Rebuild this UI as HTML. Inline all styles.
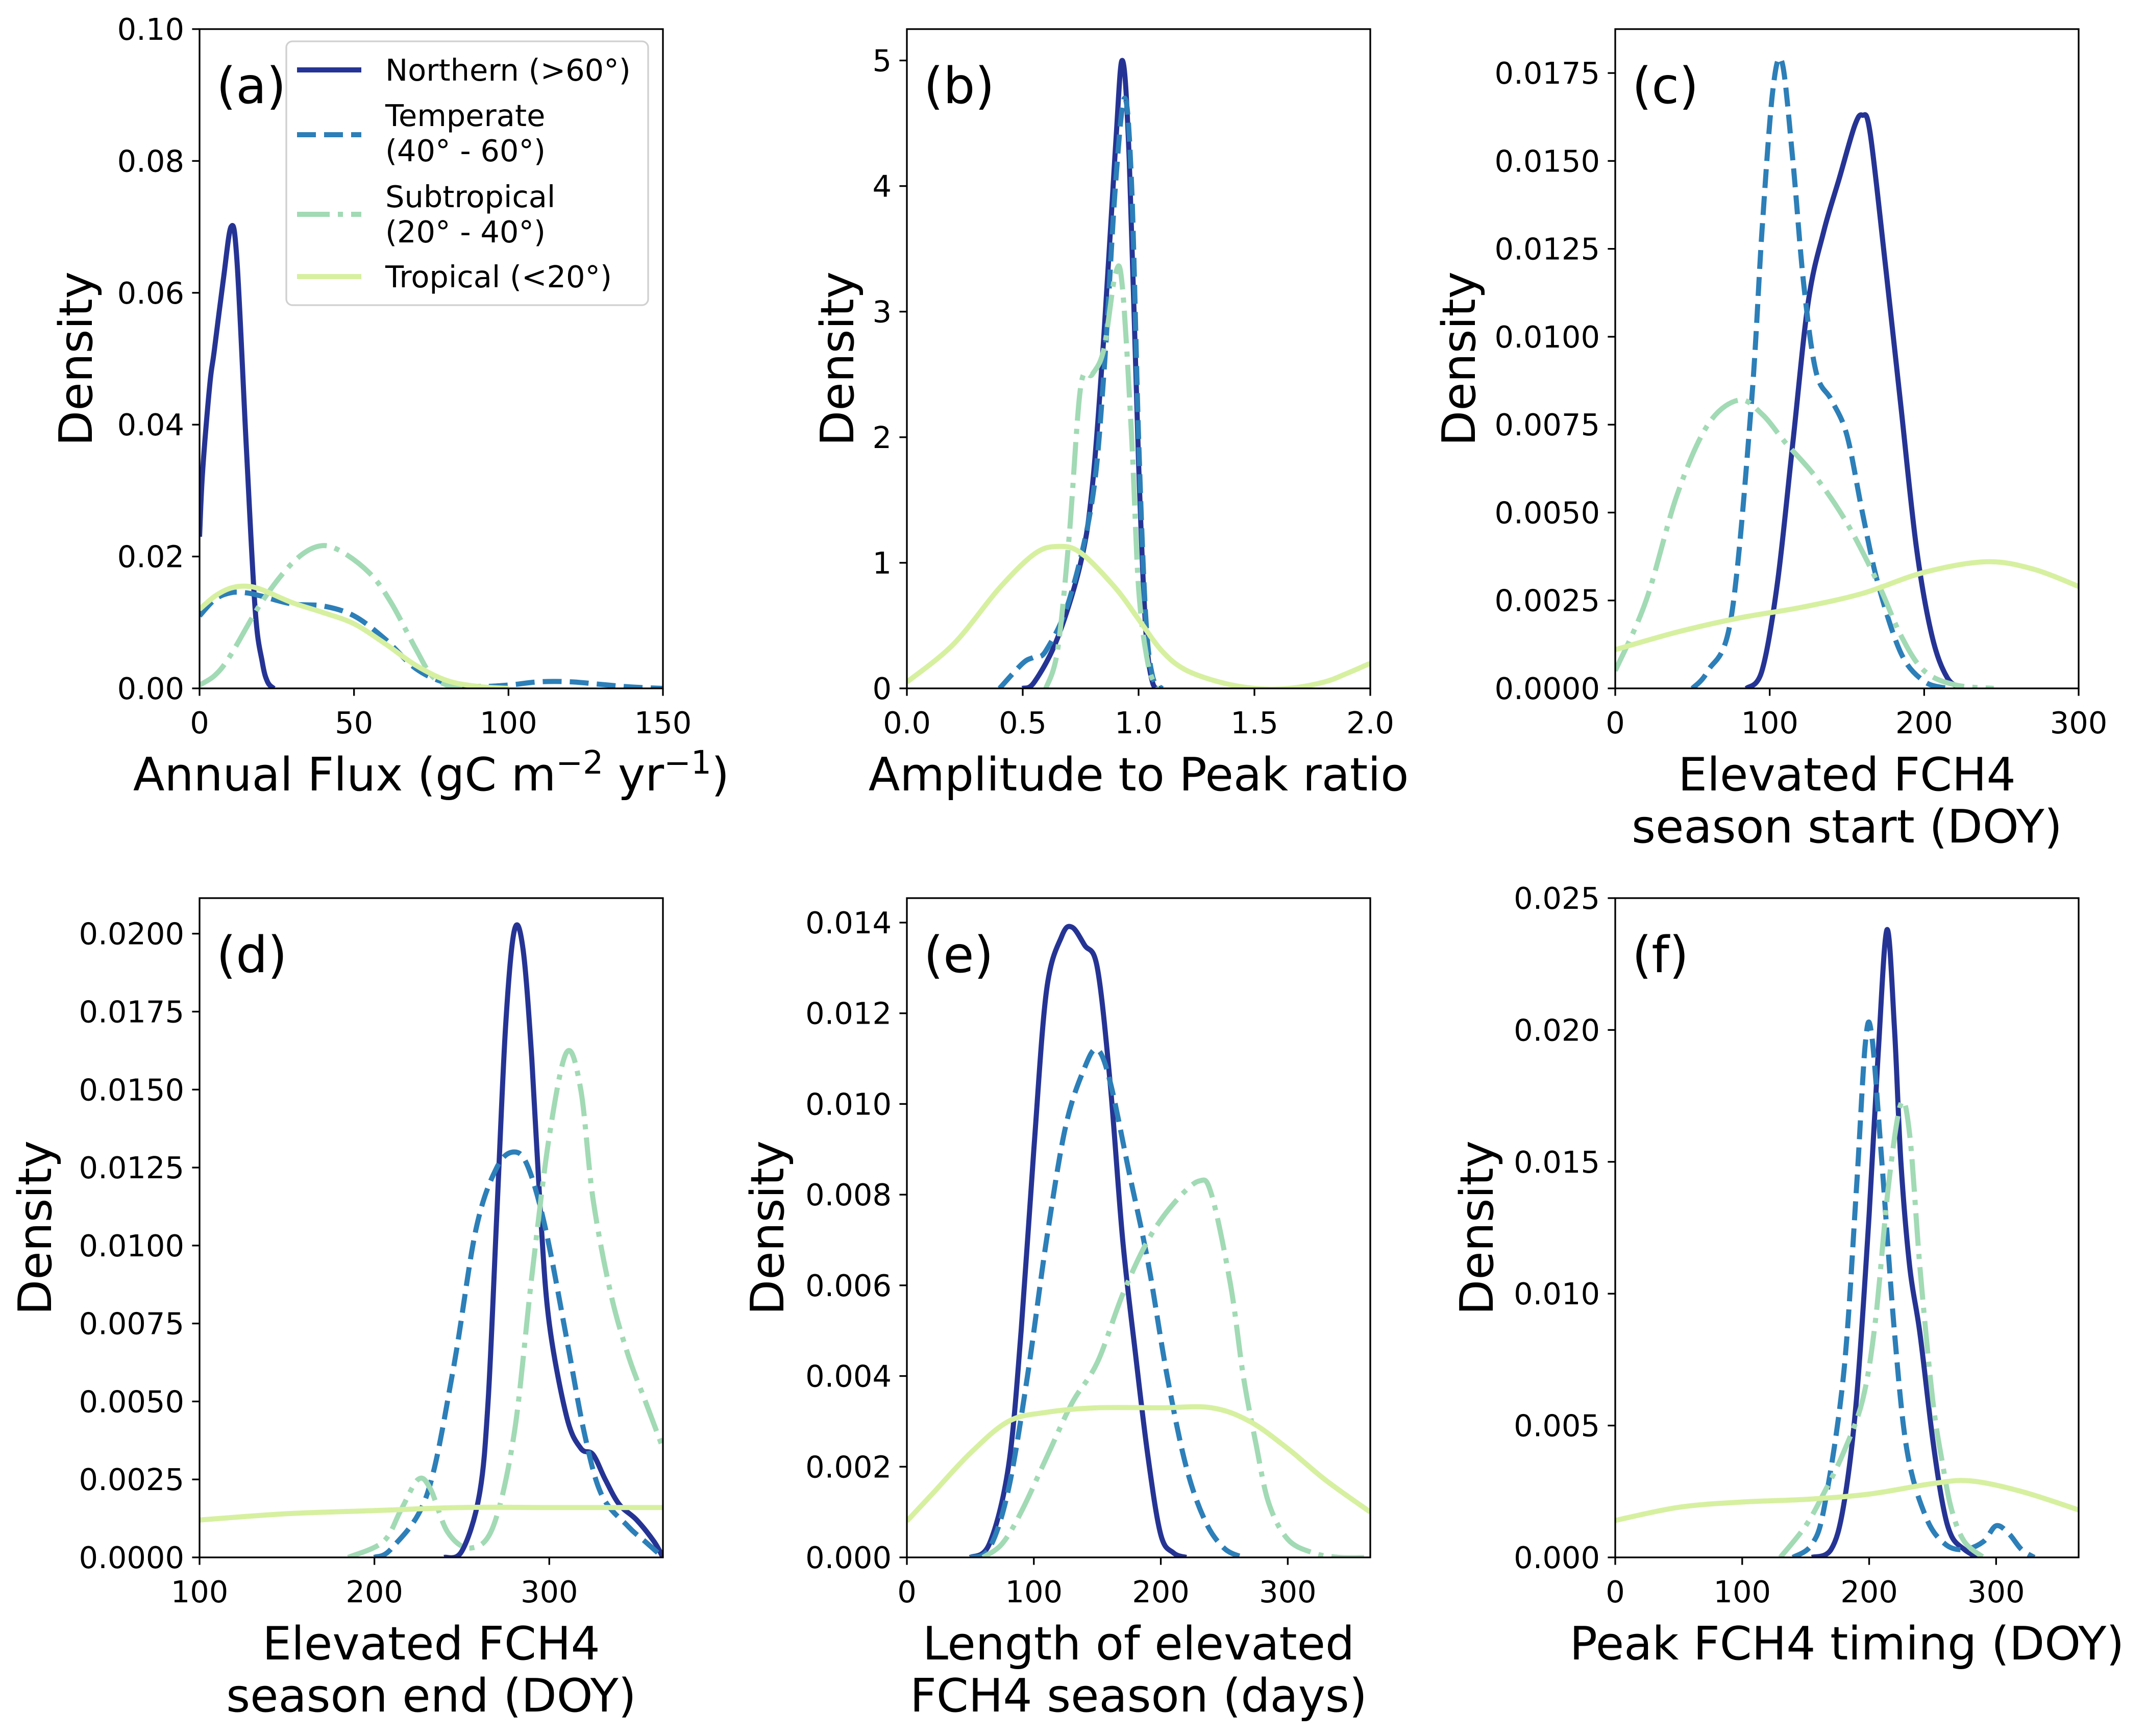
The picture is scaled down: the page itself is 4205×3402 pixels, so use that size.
<!DOCTYPE html>
<html><head><meta charset="utf-8">
<style>
html,body{margin:0;padding:0;background:#fff;}
svg{display:block;font-family:"DejaVu Sans","Liberation Sans",sans-serif;}
</style></head>
<body>
<svg id="fig" xmlns="http://www.w3.org/2000/svg" width="4205" height="3402" viewBox="0 0 4205 3402">
<rect width="4205" height="3402" fill="#fff"/>
</svg>
<script>
// ---- Panel (a) Annual flux ----
const aNorthX=[0,1,3.3,4.7,7.7,10.2,12.1,15.1,18,20.3,22,24];
const aNorthY=[0.023,0.033,0.046,0.051,0.062,0.070,0.065,0.037,0.012,0.004,0.001,0];
const aTempX=[0,5,10,15,20,30,40,50,60,70,80,90,100,110,120,130,140,150];
const aTempY=[0.011,0.0135,0.0145,0.0145,0.014,0.0128,0.0125,0.011,0.0075,0.003,0.0008,0.0003,0.0005,0.001,0.001,0.0006,0.0002,0];
const aSubX=[0,5,10,20,30,38,45,55,62,70,75,80,85];
const aSubY=[0.0005,0.002,0.005,0.013,0.019,0.0215,0.021,0.0175,0.013,0.006,0.002,0.0005,0];
const aTropX=[0,5,10,15,20,30,40,50,60,70,80,90,100];
const aTropY=[0.012,0.014,0.0152,0.0155,0.015,0.013,0.0115,0.0098,0.0068,0.0035,0.0012,0.0003,0];
const aXTicks=[0,50,100,150];
const aYTicks=[0,0.02,0.04,0.06,0.08,0.10];
// ---- Panel (b) Amplitude to peak ----
const bNorthX=[0.5,0.55,0.65,0.75,0.8,0.85,0.9,0.93,0.96,1.0,1.03,1.06,1.1];
const bNorthY=[0,0.05,0.4,1.0,1.6,2.8,4.3,5.0,4.2,1.8,0.5,0.05,0];
const bTempX=[0.4,0.5,0.55,0.6,0.7,0.8,0.85,0.9,0.94,0.97,1.0,1.03,1.06,1.1];
const bTempY=[0,0.2,0.25,0.3,0.7,1.5,2.5,4.0,4.7,4.0,2.0,0.6,0.1,0];
const bSubX=[0.6,0.65,0.7,0.75,0.8,0.85,0.9,0.93,0.97,1.0,1.04,1.08];
const bSubY=[0,0.3,1.2,2.4,2.5,2.7,3.3,3.2,2.0,0.8,0.2,0];
const bTropX=[0,0.2,0.4,0.55,0.65,0.75,0.9,1.0,1.1,1.2,1.35,1.5,1.65,1.8,1.9,2.0];
const bTropY=[0.05,0.35,0.8,1.07,1.13,1.08,0.8,0.55,0.3,0.15,0.05,0.0,0.0,0.05,0.12,0.2];
const bXTicks=[0,0.5,1.0,1.5,2.0];
const bYTicks=[0,1,2,3,4,5];
// ---- Panel (c) season start ----
const cNorthX=[85,95,105,115,125,135,145,155,160,165,175,185,195,205,215,225];
const cNorthY=[0,0.0005,0.003,0.007,0.011,0.013,0.0145,0.016,0.0163,0.0158,0.012,0.008,0.004,0.0015,0.0003,0];
const cTempX=[50,60,75,88,95,102,108,115,122,130,140,150,160,170,185,200,215];
const cTempY=[0,0.0005,0.002,0.008,0.013,0.017,0.0178,0.015,0.0115,0.009,0.0082,0.0072,0.005,0.003,0.001,0.0002,0];
const cSubX=[0,20,40,60,80,95,110,130,150,170,185,200,220,245];
const cSubY=[0.0005,0.0025,0.0055,0.0075,0.0082,0.0078,0.007,0.006,0.0047,0.003,0.0015,0.0005,0.0001,0];
const cTropX=[0,40,80,120,160,200,240,270,300];
const cTropY=[0.0011,0.0016,0.002,0.0023,0.0027,0.0033,0.0036,0.0034,0.0029];
const cXTicks=[0,100,200,300];
const cYTicks=[0,0.0025,0.005,0.0075,0.01,0.0125,0.015,0.0175];
// ---- Panel (d) season end ----
const dNorthX=[240,250,260,265,270,275,280,285,290,295,300,310,318,325,332,340,350,360,365];
const dNorthY=[0,0.0002,0.002,0.005,0.011,0.017,0.0201,0.0195,0.016,0.011,0.0075,0.0045,0.0035,0.0033,0.0025,0.0017,0.0012,0.0005,0];
const dTempX=[200,210,230,245,258,270,280,288,298,310,320,330,345,355,365];
const dTempY=[0,0.0003,0.002,0.006,0.0105,0.0125,0.013,0.0125,0.0105,0.007,0.004,0.002,0.001,0.0005,0];
const dSubX=[185,205,215,225,232,242,255,268,280,290,300,310,318,325,335,345,355,365];
const dSubY=[0,0.0005,0.0015,0.0025,0.0022,0.0008,0.0003,0.001,0.004,0.009,0.0135,0.0162,0.015,0.0115,0.0085,0.0065,0.005,0.0035];
const dTropX=[100,150,200,250,300,365];
const dTropY=[0.0012,0.0014,0.0015,0.0016,0.0016,0.0016];
const dXTicks=[100,200,300];
const dYTicks=[0,0.0025,0.005,0.0075,0.01,0.0125,0.015,0.0175,0.02];
// ---- Panel (e) season length ----
const eNorthX=[50,65,80,90,100,110,122,130,140,150,160,170,180,190,200,210,220];
const eNorthY=[0,0.0003,0.002,0.005,0.009,0.0125,0.0137,0.0139,0.0135,0.013,0.0105,0.007,0.0045,0.0022,0.0005,0.0001,0];
const eTempX=[50,65,80,95,110,125,140,150,160,175,190,205,220,235,250,265];
const eTempY=[0,0.0002,0.0015,0.004,0.007,0.0095,0.0108,0.0112,0.0105,0.0085,0.0065,0.004,0.002,0.0008,0.0002,0];
const eSubX=[60,75,90,110,130,150,170,190,210,230,240,255,265,275,285,300,320,340,365];
const eSubY=[0,0.0003,0.001,0.0022,0.0034,0.0043,0.0058,0.007,0.0078,0.0083,0.008,0.006,0.004,0.0025,0.0012,0.0004,0.0001,0,0];
const eTropX=[0,20,50,80,110,150,200,240,270,300,330,365];
const eTropY=[0.0008,0.0014,0.0023,0.003,0.0032,0.0033,0.0033,0.0033,0.003,0.0024,0.0017,0.001];
const eXTicks=[0,100,200,300];
const eYTicks=[0,0.002,0.004,0.006,0.008,0.01,0.012,0.014];
// ---- Panel (f) peak timing ----
const fNorthX=[155,170,180,190,200,207,214,220,225,232,240,250,258,265,275,285];
const fNorthY=[0,0.0003,0.002,0.006,0.013,0.019,0.0238,0.02,0.015,0.011,0.0085,0.0045,0.002,0.0008,0.0003,0];
const fTempX=[140,155,165,180,190,197,202,210,220,230,245,260,275,290,300,310,320,330];
const fTempY=[0,0.0005,0.002,0.007,0.014,0.0195,0.0198,0.015,0.0085,0.004,0.0015,0.0005,0.0003,0.0006,0.0012,0.0009,0.0003,0];
const fSubX=[130,150,165,180,195,205,215,225,232,240,250,258,265,275,290];
const fSubY=[0,0.0012,0.0025,0.004,0.006,0.009,0.014,0.0172,0.016,0.011,0.006,0.0035,0.0018,0.0006,0];
const fTropX=[0,50,100,150,200,250,280,320,365];
const fTropY=[0.0014,0.0019,0.0021,0.0022,0.0024,0.0028,0.0029,0.0025,0.0018];
const fXTicks=[0,100,200,300];
const fYTicks=[0,0.005,0.01,0.015,0.02,0.025];

const NS="http://www.w3.org/2000/svg";
const svg=document.getElementById('fig');
const COL={north:'#253494',temp:'#2c7fb8',sub:'#a1dab4',trop:'#d6f0a0'};
const LW=10;
const DASH={north:null,temp:'37 16',sub:'64 16 10 16',trop:null};
function mk(tag,attrs,parent){const e=document.createElementNS(NS,tag);for(const k in attrs)e.setAttribute(k,attrs[k]);(parent||svg).appendChild(e);return e;}
function smoothPath(pts){
  if(pts.length<2)return '';
  let d='M'+pts[0][0].toFixed(1)+','+pts[0][1].toFixed(1);
  for(let i=0;i<pts.length-1;i++){
    const p0=pts[Math.max(0,i-1)],p1=pts[i],p2=pts[i+1],p3=pts[Math.min(pts.length-1,i+2)];
    const c1=[p1[0]+(p2[0]-p0[0])/6,p1[1]+(p2[1]-p0[1])/6];
    const c2=[p2[0]-(p3[0]-p1[0])/6,p2[1]-(p3[1]-p1[1])/6];
    d+=' C'+c1[0].toFixed(1)+','+c1[1].toFixed(1)+' '+c2[0].toFixed(1)+','+c2[1].toFixed(1)+' '+p2[0].toFixed(1)+','+p2[1].toFixed(1);
  }
  return d;
}
let clipN=0;
function panel(o){
  const {L,T,W,H,xmin,xmax,ymin,ymax,xt,yt,yfmt,xfmt,letter,xlabel,series,id}=o;
  const g=mk('g',{});
  
  
  const sx=v=>L+(v-xmin)/(xmax-xmin)*W;
  const sy=v=>T+H-(v-ymin)/(ymax-ymin)*H;
  const cid='clip'+(clipN++);
  const cp=mk('clipPath',{id:cid},g);mk('rect',{x:L,y:T,width:W,height:H},cp);
  const sg=mk('g',{'clip-path':'url(#'+cid+')'},g);
  for(const s of series){
    const pts=s.x.map((v,i)=>[sx(v),sy(s.y[i])]);
    const p=mk('path',{d:smoothPath(pts),fill:'none',stroke:COL[s.k],'stroke-width':LW,'stroke-linejoin':'round'},sg);
    if(DASH[s.k])p.setAttribute('stroke-dasharray',DASH[s.k]);
    
    
  }
  const frame=mk('rect',{x:L,y:T,width:W,height:H,fill:'none',stroke:'#000','stroke-width':3.3},g);
  
  
  for(const v of xt){
    const x=sx(v);
    mk('line',{x1:x,y1:T+H,x2:x,y2:T+H+14.6,stroke:'#000','stroke-width':3.3},g);
    const t=mk('text',{x:x,y:T+H+88,'text-anchor':'middle','font-size':59},g);
    t.textContent=xfmt(v);
    
    
  }
  for(const v of yt){
    const y=sy(v);
    mk('line',{x1:L-14.6,y1:y,x2:L,y2:y,stroke:'#000','stroke-width':3.3},g);
    const t=mk('text',{x:L-30,y:y+21,'text-anchor':'end','font-size':59},g);
    t.textContent=yfmt(v);
    
    
  }
  const lt=mk('text',{x:L+33,y:T+145,'font-size':98},g);
  lt.textContent=letter;
  
  
  const yl=mk('text',{x:o.ylx,y:T+H/2,'text-anchor':'middle','font-size':90,transform:'rotate(-90 '+o.ylx+' '+(T+H/2)+')'},g);
  yl.textContent='Density';
  
  
  xlabel.forEach((ln,i)=>{
    const t=mk('text',{x:L+W/2,y:T+H+200+i*102,'text-anchor':'middle','font-size':90},g);
    if(typeof ln==='string')t.textContent=ln;else t.innerHTML=ln.html;
    
    
  });
  return {sx,sy};
}
const f2=v=>v.toFixed(2),f4=v=>v.toFixed(4),f3=v=>v.toFixed(3),f1=v=>v.toFixed(1),f0=v=>String(Math.round(v));
const TOP=57,BOT=1760,H=1292,W=908,C1=391,C2=1777,C3=3165;
panel({id:'a',L:C1,T:TOP,W,H,xmin:0,xmax:150,ymin:0,ymax:0.10,xt:aXTicks,yt:aYTicks,xfmt:f0,yfmt:f2,letter:'(a)',ylx:180,
  xlabel:[{html:'Annual Flux (gC m<tspan dy="-33" font-size="63">−2</tspan><tspan dy="33"> yr</tspan><tspan dy="-33" font-size="63">−1</tspan><tspan dy="33">)</tspan>'}],
  series:[{k:'north',x:aNorthX,y:aNorthY},{k:'temp',x:aTempX,y:aTempY},{k:'sub',x:aSubX,y:aSubY},{k:'trop',x:aTropX,y:aTropY}]});
panel({id:'b',L:C2,T:TOP,W,H,xmin:0,xmax:2,ymin:0,ymax:5.25,xt:bXTicks,yt:bYTicks,xfmt:f1,yfmt:f0,letter:'(b)',ylx:1672,
  xlabel:['Amplitude to Peak ratio'],
  series:[{k:'north',x:bNorthX,y:bNorthY},{k:'temp',x:bTempX,y:bTempY},{k:'sub',x:bSubX,y:bSubY},{k:'trop',x:bTropX,y:bTropY}]});
panel({id:'c',L:C3,T:TOP,W,H,xmin:0,xmax:300,ymin:0,ymax:0.01875,xt:cXTicks,yt:cYTicks,xfmt:f0,yfmt:f4,letter:'(c)',ylx:2890,
  xlabel:['Elevated FCH4','season start (DOY)'],
  series:[{k:'north',x:cNorthX,y:cNorthY},{k:'temp',x:cTempX,y:cTempY},{k:'sub',x:cSubX,y:cSubY},{k:'trop',x:cTropX,y:cTropY}]});
panel({id:'d',L:C1,T:BOT,W,H,xmin:100,xmax:365,ymin:0,ymax:0.02114,xt:dXTicks,yt:dYTicks,xfmt:f0,yfmt:f4,letter:'(d)',ylx:100,
  xlabel:['Elevated FCH4','season end (DOY)'],
  series:[{k:'north',x:dNorthX,y:dNorthY},{k:'temp',x:dTempX,y:dTempY},{k:'sub',x:dSubX,y:dSubY},{k:'trop',x:dTropX,y:dTropY}]});
panel({id:'e',L:C2,T:BOT,W,H,xmin:0,xmax:365,ymin:0,ymax:0.01454,xt:eXTicks,yt:eYTicks,xfmt:f0,yfmt:f3,letter:'(e)',ylx:1535,
  xlabel:['Length of elevated','FCH4 season (days)'],
  series:[{k:'north',x:eNorthX,y:eNorthY},{k:'temp',x:eTempX,y:eTempY},{k:'sub',x:eSubX,y:eSubY},{k:'trop',x:eTropX,y:eTropY}]});
panel({id:'f',L:C3,T:BOT,W,H,xmin:0,xmax:365,ymin:0,ymax:0.025,xt:fXTicks,yt:fYTicks,xfmt:f0,yfmt:f3,letter:'(f)',ylx:2925,
  xlabel:['Peak FCH4 timing (DOY)'],
  series:[{k:'north',x:fNorthX,y:fNorthY},{k:'temp',x:fTempX,y:fTempY},{k:'sub',x:fSubX,y:fSubY},{k:'trop',x:fTropX,y:fTropY}]});

// legend
const lg=mk('g',{});


mk('rect',{x:561,y:81,width:709,height:517,rx:12,fill:'#fff','fill-opacity':0.85,stroke:'#d0d0d0','stroke-width':3.3},lg);
const legEntries=[
  {k:'north',ly:137,lines:['Northern (>60°)'],ty:[158]},
  {k:'temp',ly:264,lines:['Temperate','(40° - 60°)'],ty:[247,316]},
  {k:'sub',ly:420,lines:['Subtropical','(20° - 40°)'],ty:[406,475]},
  {k:'trop',ly:542,lines:['Tropical (<20°)'],ty:[563]}];
for(const e of legEntries){
  const eg=mk('g',{},lg);
  
  
  const l=mk('line',{x1:582,y1:e.ly,x2:708,y2:e.ly,stroke:COL[e.k],'stroke-width':LW},eg);
  if(DASH[e.k])l.setAttribute('stroke-dasharray',DASH[e.k]);
  e.lines.forEach((s,i)=>{const t=mk('text',{x:755,y:e.ty[i],'font-size':59},eg);t.textContent=s;});
}
</script>
</body></html>
